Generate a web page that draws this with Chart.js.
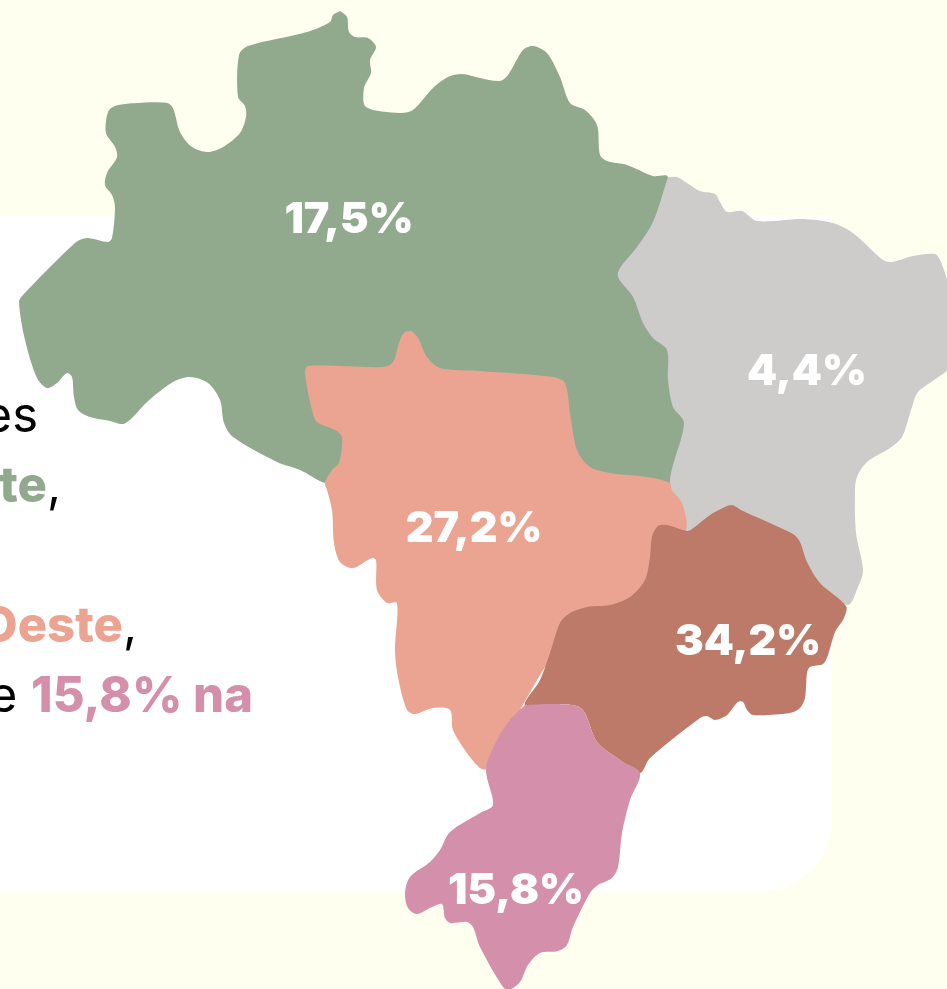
<!DOCTYPE html>
<html lang="pt">
<head>
<meta charset="utf-8">
<title>Brasil por região</title>
<script src="https://cdn.jsdelivr.net/npm/chart.js@4"></script>
<style>
  html, body { margin: 0; padding: 0; background: #fffff0; }
  #page { position: relative; width: 947px; height: 989px; overflow: hidden; background: #fffff0; }
  #panel { position: absolute; left: -40px; top: 216px; width: 872px; height: 676px; background: #fff; border-bottom-right-radius: 72px; }
  #map { position: absolute; left: 0; top: 0; }
  .line { position: absolute; white-space: nowrap; font: 400 49px Inter, sans-serif; line-height: 60px; color: #000; }
  .line b { font-weight: 800; }
</style>
</head>
<body>
<div id="page">
  <div id="panel"></div>
  <div class="line" style="right:909px; top:385px">es</div>
  <div class="line" style="right:886px; top:455px"><b style="color:#91aa8d">te</b>,</div>
  <div class="line" style="right:810px; top:595px"><b style="color:#eba492">Oeste</b>,</div>
  <div class="line" style="right:694px; top:665px">e <b style="color:#d48faa">15,8% na</b></div>
  <canvas id="map" width="947" height="989"></canvas>
</div>
<script>
const regions = ['Norte', 'Nordeste', 'Centro-Oeste', 'Sudeste', 'Sul'];
const shares = [17.5, 4.4, 27.2, 34.2, 15.8];
const regionColors = ['#91aa8d', '#cecccA', '#eba492', '#bd7a69', '#d48faa'];

// outlines, in map units
const norteX = [340,347,349,355,368,376,370,371,364,366,400,413,433,448,462,480,500,508,523,533,547,560,570,585,597,600,607,627,653,668,690,690,670,560,400,325,300,277,233,224,220,208,190,173,147,133,123,110,90,78,74,72,67,57,47,37,25,19,23,75,87,108,112,115,112,105,107,117,115,106,108,115,137,167,173,180,192,208,223,240,246,245,238,239,248,307,330,333,340];
const norteY = [11,17,32,37,38,47,60,73,88,107,113,110,88,77,74,78,81,75,50,46,53,77,103,110,125,155,161,165,176,177,300,440,490,500,500,483,470,462,437,423,400,383,377,382,402,417,424,421,417,410,397,377,373,383,388,378,340,302,295,243,238,242,238,207,195,185,173,157,147,133,112,106,103,103,108,132,147,152,147,133,117,106,97,55,46,32,22,15,11];

const nordesteX = [668,677,687,700,715,720,727,742,757,803,833,853,883,892,913,935,940,947,950,950,947,937,918,912,902,890,867,857,855,856,863,858,847,760,680,670,684,673,668,667,653,643,633,618,620,637,653,668];
const nordesteY = [177,177,183,191,194,202,212,211,221,219,223,233,260,262,256,254,260,280,300,350,370,378,392,407,437,448,462,477,490,533,570,587,605,560,540,482,423,407,380,350,338,323,297,277,268,247,222,177];

const centroX = [412,418,427,440,480,553,565,570,577,590,610,647,670,672,682,686,650,560,520,486,480,467,453,450,433,415,407,398,395,397,387,377,376,372,353,340,334,332,327,325,332,339,342,335,317,312,305,308,383,393,400,405,412];
const centroY = [331,338,357,368,371,377,383,413,450,467,473,477,483,490,503,530,600,650,710,769,768,753,730,710,708,714,710,677,650,603,603,590,560,558,568,562,543,510,490,483,470,463,437,430,422,410,373,366,367,362,340,332,331];

const sudesteX = [733,743,793,800,807,820,846,844,835,828,823,810,807,805,800,790,753,747,743,738,727,715,707,700,650,640,620,597,585,577,553,525,540,550,560,570,587,610,630,645,650,652,658,667,687,692,710,727,733];
const sudesteY = [505,511,534,542,562,583,606,618,632,655,664,667,673,698,708,713,715,710,702,702,715,720,716,718,758,773,760,742,713,706,704,705,680,653,623,613,607,605,597,580,557,537,526,525,531,529,515,506,505];

const sulX = [525,553,577,585,597,620,640,630,622,618,612,598,590,573,567,558,540,528,520,509,503,480,473,467,450,445,442,432,417,408,405,410,430,440,450,480,493,486,497,510,525];
const sulY = [705,704,706,713,742,760,773,800,833,867,878,885,893,927,945,951,953,965,982,990,987,947,927,922,923,918,904,907,914,908,893,877,862,850,832,813,805,769,740,720,705];

const outlinesX = [norteX, nordesteX, centroX, sudesteX, sulX];
const outlinesY = [norteY, nordesteY, centroY, sudesteY, sulY];

// where each share sits on the map
const labelX = [349, 807, 474, 748, 516];
const labelY = [220, 372, 529, 642, 891];

const shareLabels = {
  id: 'shareLabels',
  afterDatasetsDraw(chart) {
    const ctx = chart.ctx;
    ctx.save();
    ctx.fillStyle = '#fff';
    ctx.font = '900 43px Inter, sans-serif';
    ctx.textAlign = 'center';
    ctx.textBaseline = 'middle';
    shares.forEach((share, i) => {
      const text = share.toFixed(1).replace('.', ',') + '%';
      ctx.fillText(text, chart.scales.x.getPixelForValue(labelX[i]), chart.scales.y.getPixelForValue(labelY[i]));
    });
    ctx.restore();
  }
};

new Chart(document.getElementById('map'), {
  type: 'scatter',
  data: {
    datasets: regions.map((name, i) => ({
      label: name,
      data: outlinesX[i].map((x, j) => ({ x: x, y: outlinesY[i][j] })),
      showLine: true,
      fill: 'shape',
      order: regions.length - i, // later regions lie on top of earlier ones
      backgroundColor: regionColors[i],
      borderColor: regionColors[i],
      borderWidth: 0,
      pointRadius: 0,
      tension: 0.3
    }))
  },
  options: {
    responsive: false,
    animation: false,
    layout: { padding: 0 },
    plugins: { legend: { display: false }, tooltip: { enabled: false } },
    scales: {
      x: { type: 'linear', display: false, min: 0, max: 947 },
      y: { type: 'linear', display: false, min: 0, max: 989, reverse: true }
    }
  },
  plugins: [shareLabels]
});
</script>
</body>
</html>
